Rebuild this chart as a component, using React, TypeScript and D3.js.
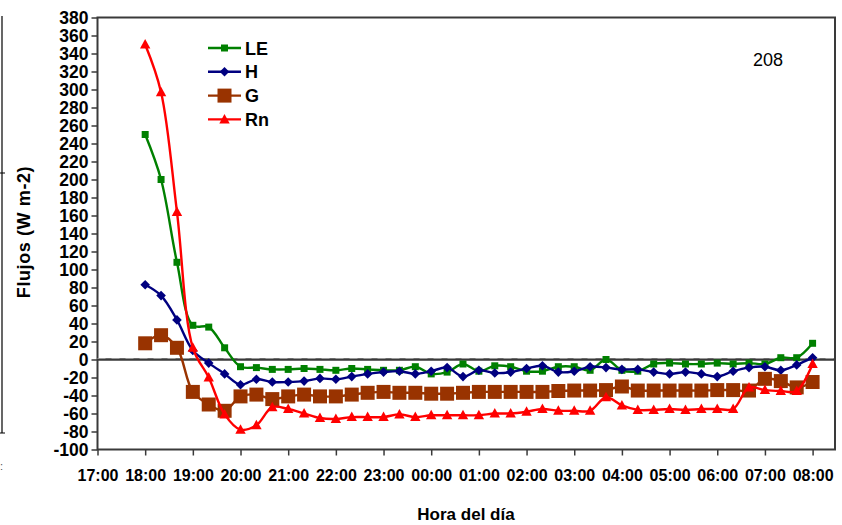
import React, { useRef, useEffect } from 'react'
import * as d3 from 'd3'

// time of each reading (every 20 minutes)
const times = [
  '18:00', '18:20', '18:40', '19:00', '19:20', '19:40', '20:00', '20:20', '20:40',
  '21:00', '21:20', '21:40', '22:00', '22:20', '22:40', '23:00', '23:20', '23:40',
  '00:00', '00:20', '00:40', '01:00', '01:20', '01:40', '02:00', '02:20', '02:40',
  '03:00', '03:20', '03:40', '04:00', '04:20', '04:40', '05:00', '05:20', '05:40',
  '06:00', '06:20', '06:40', '07:00', '07:20', '07:40', '08:00'
]

const LE = [250, 200, 108, 38, 36, 13, -8, -9, -11, -11, -10, -11, -12, -10, -11, -12, -12, -8, -16, -14, -5, -13, -7, -8, -13, -13, -8, -8, -12, 0, -12, -13, -5, -4, -5, -5, -4, -5, -4, -5, 2, 2, 18]
const H = [83, 71, 44, 10, -4, -16, -28, -22, -25, -25, -24, -21, -22, -19, -16, -14, -13, -16, -13, -9, -19, -12, -15, -14, -10, -7, -14, -13, -8, -9, -11, -11, -14, -16, -14, -16, -19, -13, -9, -8, -12, -6, 2]
const G = [18, 27, 13, -36, -50, -57, -41, -39, -44, -41, -39, -41, -41, -39, -37, -36, -37, -37, -38, -38, -37, -36, -36, -36, -36, -36, -35, -34.5, -34.5, -34, -30, -34.5, -34.5, -34.5, -34.5, -34.5, -34, -34, -34.5, -21.5, -24, -31, -25]
const Rn = [350, 297, 164, 13, -20, -61, -78, -73, -53, -55, -60, -65, -66, -64, -64, -64, -61, -64, -62, -62, -62, -62, -60, -60, -58, -55, -57, -57, -57, -42, -51, -56, -56, -55, -56, -55, -55, -55, -31, -34, -35, -35, -5]

const xTickLabels = ['17:00', '18:00', '19:00', '20:00', '21:00', '22:00', '23:00', '00:00',
  '01:00', '02:00', '03:00', '04:00', '05:00', '06:00', '07:00', '08:00']
const yTicks = [-100, -80, -60, -40, -20, 0, 20, 40, 60, 80, 100, 120, 140, 160, 180, 200,
  220, 240, 260, 280, 300, 320, 340, 360, 380]

const seriesNames = ['LE', 'H', 'G', 'Rn']
const seriesValues = [LE, H, G, Rn]
const seriesColors = ['#008000', '#000080', '#993300', '#ff0000']
const seriesMarkers = ['smallSquare', 'diamond', 'bigSquare', 'triangle']

const FONT = '"Liberation Sans", Arial, Helvetica, sans-serif'

// hours after 17:00
const hourOffset = (t: string) => {
  const [h, m] = t.split(':').map(Number)
  const hh = h < 17 ? h + 24 : h
  return hh - 17 + m / 60
}

const markerPath = (kind: string) => {
  if (kind === 'smallSquare') return 'M-3.5,-3.5H3.5V3.5H-3.5Z'
  if (kind === 'bigSquare') return 'M-7,-7H7V7H-7Z'
  if (kind === 'diamond') return 'M0,-4.8L4.8,0L0,4.8L-4.8,0Z'
  return 'M0,-5.5L5.2,4L-5.2,4Z'
}

const App = () => {
  const svgRef = useRef<SVGSVGElement>(null)

  useEffect(() => {
    document.body.style.margin = '0'
    const svg = d3.select(svgRef.current)
    svg.selectAll('*').remove()

    const left = 97.5
    const right = 835
    const top = 17.5
    const bottom = 449.5

    const xScale = d3.scaleLinear().domain([0, 15.47]).range([left, right])
    const yScale = d3.scaleLinear().domain([-100, 380]).range([bottom, top])

    // stray frame of the neighbouring chart on the left edge
    svg.append('line').attr('x1', 2).attr('x2', 2).attr('y1', 16).attr('y2', 433)
      .attr('stroke', '#000').attr('stroke-width', 1.2)
    svg.append('line').attr('x1', 0).attr('x2', 5).attr('y1', 173).attr('y2', 173)
      .attr('stroke', '#000').attr('stroke-width', 1)
    svg.append('line').attr('x1', 0).attr('x2', 5).attr('y1', 433).attr('y2', 433)
      .attr('stroke', '#000').attr('stroke-width', 1)
    svg.append('text').attr('x', 0).attr('y', 470).style('font-family', FONT)
      .style('font-size', '11px').attr('fill', '#555').text(':')

    // plot frame
    svg.append('rect')
      .attr('x', left).attr('y', top)
      .attr('width', right - left).attr('height', bottom - top)
      .attr('fill', '#fff').attr('stroke', '#3a3a3a').attr('stroke-width', 2)

    // y axis ticks + labels
    const yAxis = d3.axisLeft(yScale).tickValues(yTicks).tickSize(6).tickSizeOuter(0)
      .tickFormat(d => `${d}`)
    const gy = svg.append('g').attr('transform', `translate(${left},0)`).call(yAxis)
    gy.select('.domain').remove()
    gy.selectAll('line').attr('stroke', '#3a3a3a').attr('stroke-width', 1.5)
    gy.selectAll('text')
      .attr('x', -9)
      .style('font-family', FONT).style('font-size', '17.5px').style('font-weight', 'bold')
      .attr('fill', '#000')

    // x axis ticks + labels
    const xAxis = d3.axisBottom(xScale).tickValues(d3.range(xTickLabels.length))
      .tickSize(6).tickSizeOuter(0)
      .tickFormat((d, i) => xTickLabels[i])
    const gx = svg.append('g').attr('transform', `translate(0,${bottom})`).call(xAxis)
    gx.select('.domain').remove()
    gx.selectAll('line').attr('stroke', '#3a3a3a').attr('stroke-width', 1.5)
    gx.selectAll('text')
      .attr('y', 20)
      .style('font-family', FONT).style('font-size', '16px').style('font-weight', 'bold')
      .attr('fill', '#000')

    // zero line
    svg.append('line')
      .attr('x1', left).attr('x2', right).attr('y1', yScale(0)).attr('y2', yScale(0))
      .attr('stroke', '#3a3a3a').attr('stroke-width', 2.5)
    svg.append('line')
      .attr('x1', left).attr('x2', right).attr('y1', yScale(0) - 1).attr('y2', yScale(0) - 1)
      .attr('stroke', '#9a9a9a').attr('stroke-width', 1).attr('stroke-dasharray', '8,6')

    const lineGen = d3.line<number>()
      .x((v, i) => xScale(hourOffset(times[i])))
      .y(v => yScale(v))
      .curve(d3.curveCatmullRom.alpha(0.5))

    seriesValues.forEach((vals, s) => {
      svg.append('path')
        .datum(vals)
        .attr('d', lineGen)
        .attr('fill', 'none')
        .attr('stroke', seriesColors[s])
        .attr('stroke-width', 2.4)
        .attr('stroke-linejoin', 'round')

      svg.append('g')
        .selectAll('path')
        .data(vals)
        .join('path')
        .attr('transform', (v, i) => `translate(${xScale(hourOffset(times[i]))},${yScale(v)})`)
        .attr('d', markerPath(seriesMarkers[s]))
        .attr('fill', seriesColors[s])
    })

    // legend
    const legend = svg.append('g')
    seriesNames.forEach((name, s) => {
      const ly = 48 + s * 23.8
      legend.append('line')
        .attr('x1', 208).attr('x2', 241).attr('y1', ly).attr('y2', ly)
        .attr('stroke', seriesColors[s]).attr('stroke-width', 2.4)
      legend.append('path')
        .attr('transform', `translate(224.5,${ly})`)
        .attr('d', markerPath(seriesMarkers[s]))
        .attr('fill', seriesColors[s])
      legend.append('text')
        .attr('x', 245).attr('y', ly + 6.5)
        .style('font-family', FONT).style('font-size', '18px').style('font-weight', 'bold')
        .text(name)
    })

    svg.append('text')
      .attr('x', 768).attr('y', 66)
      .style('text-anchor', 'middle')
      .style('font-family', FONT).style('font-size', '18px')
      .text('208')

    svg.append('text')
      .attr('transform', 'rotate(-90)')
      .attr('x', -232).attr('y', 30)
      .style('text-anchor', 'middle')
      .style('font-family', FONT).style('font-size', '18px').style('font-weight', 'bold')
      .style('letter-spacing', '0.6px')
      .text('Flujos (W m-2)')

    svg.append('text')
      .attr('x', 466).attr('y', 520)
      .style('text-anchor', 'middle')
      .style('font-family', FONT).style('font-size', '17px').style('font-weight', 'bold')
      .text('Hora del día')
  }, [])

  return (
    <svg width={842} height={525} ref={svgRef} style={{ display: 'block', background: '#fff' }} />
  )
}

export default App
